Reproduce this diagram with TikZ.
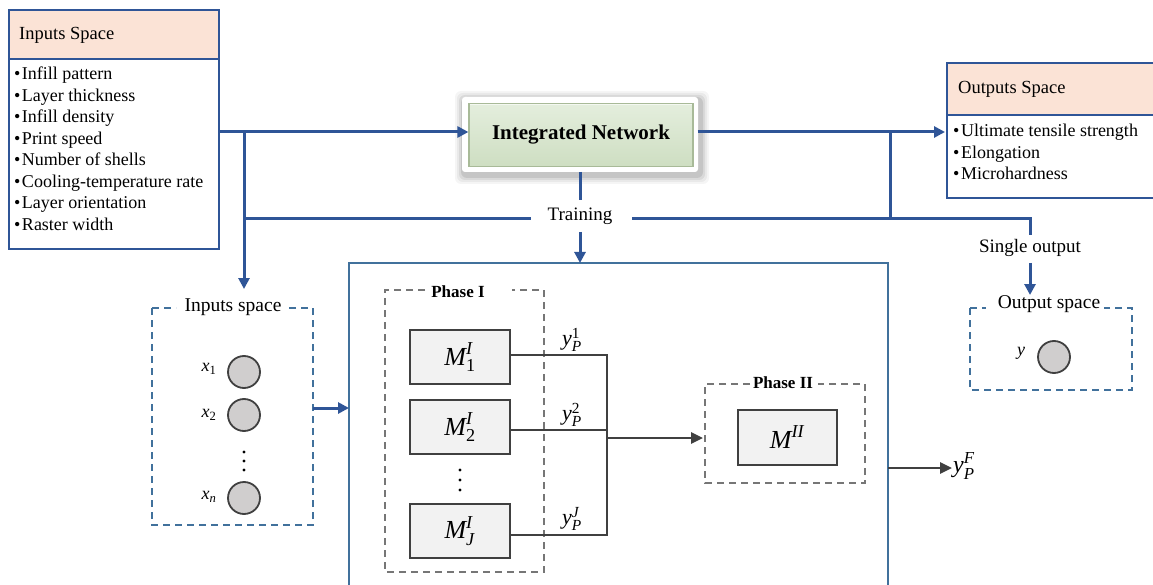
\documentclass[tikz,border=0pt]{standalone}
\usepackage{amsmath}
\usepackage{fontspec}
\setmainfont{Liberation Serif}
\usetikzlibrary{arrows.meta}
\definecolor{lblue}{RGB}{47,85,151}
\definecolor{bblue}{RGB}{65,113,156}
\definecolor{peach}{RGB}{251,227,214}
\definecolor{dgray}{RGB}{64,64,64}
\definecolor{mgray}{RGB}{118,118,118}
\definecolor{cgray}{RGB}{208,206,206}
\definecolor{boxgray}{RGB}{242,242,242}
\definecolor{gtop}{RGB}{228,238,221}
\definecolor{gbot}{RGB}{206,222,194}
\definecolor{gedge}{RGB}{168,186,152}
\tikzset{
  bl/.style={draw=lblue,line width=3pt},
  blarrow/.style={bl,-{Triangle[length=11pt,width=11pt]}},
  gl/.style={draw=dgray,line width=2.8pt},
  glarrow/.style={gl,-{Triangle[length=12pt,width=11pt]}},
  dashblue/.style={draw=bblue,line width=1.8pt,dash pattern=on 7pt off 5pt},
  dashgray/.style={draw=mgray,line width=1.7pt,dash pattern=on 7pt off 5pt},
  mbox/.style={draw=dgray,line width=2pt,fill=boxgray,minimum width=100pt,minimum height=54pt,inner sep=0pt},
  circ/.style={circle,draw=dgray,line width=1.8pt,fill=cgray,minimum size=32pt,inner sep=0pt},
  lbl/.style={inner sep=1pt,font=\fontsize{19}{22}\selectfont},
  item/.style={font=\fontsize{18}{21.5}\selectfont,align=left,anchor=north west,inner sep=0pt},
}
\newcommand{\MM}[2]{$\textit{M}^{\textit{#1}}_{\text{#2}}$}
\newcommand{\yP}[1]{$\textit{y}^{\text{#1}}_{\textit{P}}$}
\newcommand{\bul}{\textbullet\hspace{1.5pt}}
\begin{document}
\begin{tikzpicture}[x=1pt,y=-1pt]
\useasboundingbox (0,0) rectangle (1153,585);
% Inputs Space box
\fill[peach] (9,10) rectangle (219,59);
\draw[draw=lblue,line width=1.8pt] (9,10) rectangle (219,249);
\draw[draw=lblue,line width=1.8pt] (9,59) -- (219,59);
\node[anchor=west,inner sep=0pt,font=\fontsize{18.5}{22}\selectfont] (ish) at (19,35) {Inputs Space};
\node[item] (inlist) at (14,67) {\bul Infill pattern\\ \bul Layer thickness\\ \bul Infill density\\ \bul Print speed\\ \bul Number of shells\\ \bul Cooling-temperature rate\\ \bul Layer orientation\\ \bul Raster width};
\coordinate (inR) at (219,132);
% Outputs Space box
\fill[peach] (947,63) rectangle (1160,115);
\draw[draw=lblue,line width=1.8pt] (947,63) rectangle (1160,198);
\draw[draw=lblue,line width=1.8pt] (947,115) -- (1160,115);
\node[anchor=west,inner sep=0pt,font=\fontsize{18.5}{22}\selectfont] (osh) at (958,89) {Outputs Space};
\node[item] (outlist) at (953,124) {\bul Ultimate tensile strength\\ \bul Elongation\\ \bul Microhardness};
\coordinate (outL) at (945,132);
% Integrated network (soft glow + white frame + green bevel box)
\foreach \d/\o in {9/0.04,7/0.05,5/0.07,3/0.09} {
  \fill[black,opacity=\o,rounded corners=6pt] (462-\d+2,97-\d+3) rectangle (698+\d+2,172+\d+3);
}
\fill[white,rounded corners=3pt] (462,97) rectangle (698,172);
\node[draw=gedge,line width=1.2pt,top color=gtop,bottom color=gbot,
  minimum width=224pt,minimum height=63pt,inner sep=0pt,font=\fontsize{21}{24}\selectfont\bfseries] (IN) at (581,135) {Integrated Network};
\draw[white!60!gtop,line width=1.2pt] (IN.north west) ++(2,2) -- ([xshift=-2pt,yshift=-2pt]IN.north east);
% connectors top
\draw[blarrow] (inR) -- (inR -| IN.west);
\coordinate (jin) at (244,132);
\coordinate (jtr) at (244,219);
\coordinate (jout) at (890,132);
\coordinate (jtr2) at (890,219);
\coordinate (sgc) at (1030,219);
\node[lbl] (train) at (580,216) {Training};
\node[lbl] (single) at (1030,248) {Single output};
\draw[bl] (580,172) -- (580,200);
\draw[bl] (jtr) -- (531,219);
\draw[bl] (632,219) -- (sgc) -- (1030,235);
\draw[blarrow] (IN.east |- outL) ++(4,0) -- (outL);
\draw[bl] (jout) -- (jtr2);
% Inputs space dashed box
\draw[dashblue] (152,308) -- (152,525) -- (313,525) -- (313,308) -- (287,308);
\draw[dashblue] (152,308) -- (176,308);
\node[lbl,font=\fontsize{19.5}{22}\selectfont] (insp) at (233,307) {Inputs space};
\draw[blarrow] (jin) -- (244,289);
\node[circ] (x1) at (244,372) {};
\node[circ] (x2) at (244,415) {};
\node[circ] (xn) at (244,498) {};
\node[font=\fontsize{18}{20}\selectfont] at (209,369) {$\textit{x}_{\text{1}}$};
\node[font=\fontsize{18}{20}\selectfont] at (209,415) {$\textit{x}_{\text{2}}$};
\node[font=\fontsize{18}{20}\selectfont] at (209,497) {$\textit{x}_{\textit{n}}$};
\foreach \yy in {452,461,470} \fill[black] (244,\yy) circle (1.6pt);
% Output space dashed box
\draw[dashblue] (970,308) -- (970,390) -- (1132,390) -- (1132,308) -- (1104,308);
\draw[dashblue] (970,308) -- (986,308);
\node[lbl,font=\fontsize{19.5}{22}\selectfont] (osp) at (1049,304) {Output space};
\draw[blarrow] (1030,263) -- (1030,295);
\node[circ] (yc) at (1054,357) {};
\node[font=\fontsize{18}{20}\selectfont] at (1021,353) {\textit{y}};
% Big box
\draw[draw=bblue,line width=1.8pt] (349,590) -- (349,263) -- (888,263) -- (888,590);
\draw[blarrow] (580,232) -- (580,263);
\draw[blarrow] (313,408) -- (349,408);
% Phase I
\draw[dashgray] (425,290) -- (385,290) -- (385,572) -- (544,572) -- (544,290) -- (512,290);
\node[font=\fontsize{17}{20}\selectfont\bfseries,inner sep=1pt] (p1) at (458,292) {Phase I};
\node[mbox] (m1) at (460,357) {\fontsize{26}{28}\selectfont\MM{I}{1}};
\node[mbox] (m2) at (460,427) {\fontsize{26}{28}\selectfont\MM{I}{2}};
\node[mbox] (mj) at (460,531) {\fontsize{26}{28}\selectfont\MM{I}{\textit{J}}};
\foreach \yy in {470,480,490} \fill[black] (460,\yy) circle (1.6pt);
\coordinate (c1) at (607,355);
\coordinate (c2) at (607,430);
\coordinate (cj) at (607,535);
\coordinate (cm) at (607,438);
\draw[gl] (m1.east |- c1) -- (c1) -- (cj) -- (mj.east |- cj);
\draw[gl] (m2.east |- c2) -- (c2);
\node[font=\fontsize{22}{24}\selectfont] at (572,340) {\yP{1}};
\node[font=\fontsize{22}{24}\selectfont] at (572,415) {\yP{2}};
\node[font=\fontsize{22}{24}\selectfont] at (572,519) {$\textit{y}^{\textit{J}}_{\textit{P}}$};
% Phase II
\draw[dashgray] (750,384) -- (705,384) -- (705,483) -- (865,483) -- (865,384) -- (818,384);
\node[font=\fontsize{17}{20}\selectfont\bfseries,inner sep=1pt] (p2) at (783,383) {Phase II};
\node[mbox,minimum width=99pt,minimum height=55pt] (m3) at (787,437) {\fontsize{26}{28}\selectfont$\textit{M}^{\textit{II}}$};
\draw[glarrow] (cm) -- (703,438);
\coordinate (fo) at (888,468);
\node[font=\fontsize{24}{26}\selectfont,anchor=west,inner sep=1pt] (yf) at (952,466) {$\textit{y}^{\textit{F}}_{\textit{P}}$};
\draw[glarrow] (fo) -- (fo -| yf.west);
\end{tikzpicture}
\end{document}
